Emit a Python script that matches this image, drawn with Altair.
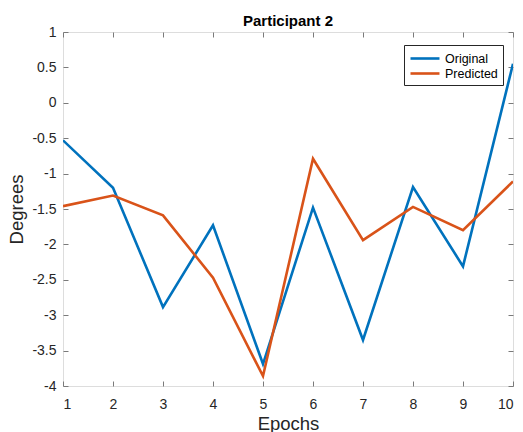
import altair as alt
import pandas as pd

epochs = [1, 2, 3, 4, 5, 6, 7, 8, 9, 10]
original = [-0.53, -1.20, -2.885, -1.73, -3.69, -1.48, -3.35, -1.19, -2.31, 0.55]
predicted = [-1.46, -1.31, -1.59, -2.47, -3.86, -0.79, -1.94, -1.47, -1.80, -1.11]
series = ["Original", "Predicted"]
colors = ["#0072BD", "#D95319"]
x_ticks = list(range(1, 11))
y_ticks = [1, 0.5, 0, -0.5, -1, -1.5, -2, -2.5, -3, -3.5, -4]

rows = []
for s, vals in zip(series, [original, predicted]):
    for e, v in zip(epochs, vals):
        rows.append({"Epochs": e, "Degrees": v, "Series": s})
df = pd.DataFrame(rows)

FONT = "Liberation Sans"
AX = "#262626"
TICKC = "#7a7a7a"

xscale = alt.Scale(domain=[1, 10], nice=False, zero=False)
yscale = alt.Scale(domain=[-4, 1], nice=False, zero=False)

lines = alt.Chart(df).mark_line(strokeWidth=2.6, clip=True).encode(
    x=alt.X("Epochs:Q", scale=xscale,
            axis=alt.Axis(values=x_ticks, offset=-5, domain=False, tickSize=5,
                          tickColor=TICKC, tickWidth=1, grid=False,
                          labelPadding=11, labelFontSize=14, labelFont=FONT,
                          labelColor=AX, labelExpr="datum.value + ''",
                          title="Epochs", titleFontSize=18.5, titleFont=FONT,
                          titleFontWeight="normal", titleColor=AX, titlePadding=3)),
    y=alt.Y("Degrees:Q", scale=yscale,
            axis=alt.Axis(values=y_ticks, offset=-5, domain=False, tickSize=5,
                          tickColor=TICKC, tickWidth=1, grid=False,
                          labelPadding=7, labelFontSize=14, labelFont=FONT,
                          labelColor=AX, labelExpr="datum.value + ''",
                          title="Degrees", titleFontSize=18.5, titleFont=FONT,
                          titleFontWeight="normal", titleColor=AX, titlePadding=5.5)),
    color=alt.Color("Series:N", scale=alt.Scale(domain=series, range=colors),
                    legend=alt.Legend(title=None, orient="none", legendX=341, legendY=13,
                                      symbolType="M-1,0H3.14", symbolSize=196,
                                      symbolStrokeWidth=2.6, labelFontSize=12.5,
                                      labelFont=FONT, labelColor="#000000",
                                      labelOffset=19, strokeColor="#262626",
                                      fillColor="white", padding=5, rowPadding=0)),
)

frame = alt.Chart(df).mark_point(opacity=0).encode(
    x=alt.X("Epochs:Q", scale=xscale,
            axis=alt.Axis(orient="top", values=x_ticks, offset=-5, domain=False,
                          tickSize=5, tickColor=TICKC, labels=False, title=None, grid=False)),
    y=alt.Y("Degrees:Q", scale=yscale,
            axis=alt.Axis(orient="right", values=y_ticks, offset=-5, domain=False,
                          tickSize=5, tickColor=TICKC, labels=False, title=None, grid=False)),
)

chart = alt.layer(lines, frame).resolve_axis(x="independent", y="independent").properties(
    width=450, height=354,
    title=alt.TitleParams("Participant 2", fontSize=15, font=FONT, fontWeight="bold",
                          color="#000000", offset=-4),
    autosize=alt.AutoSizeParams(type="none"),
    padding={"left": 63, "top": 32, "right": 10, "bottom": 46},
).configure_view(stroke="#8a8a8a", strokeWidth=1).configure(background="white")

chart.save("out.html", embed_options={"renderer": "svg", "actions": False})
